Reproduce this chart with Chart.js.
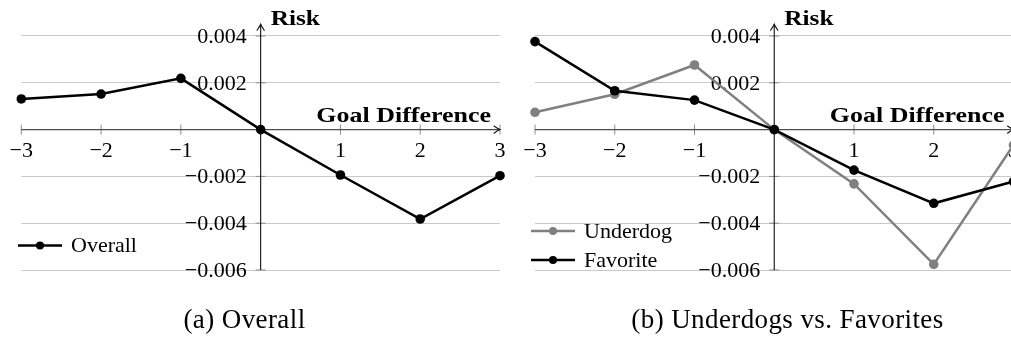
<!DOCTYPE html>
<html>
<head>
<meta charset="utf-8">
<script src="https://cdn.jsdelivr.net/npm/chart.js@4.4.1/dist/chart.umd.min.js"></script>
<style>
  html, body { margin: 0; padding: 0; background: #fff; width: 1011px; height: 338px; overflow: hidden; position: relative; }
  canvas { position: absolute; top: 0; }
  #chartOverall { left: 0; }
  #chartSplit { left: 505px; }
  .caption { position: absolute; top: 304px; font-family: 'Liberation Serif', 'DejaVu Serif', serif; font-size: 27px; line-height: 30px; white-space: nowrap; transform: translateX(-50%); color: #000; letter-spacing: 0.4px; }
</style>
</head>
<body>
<canvas id="chartOverall" width="515" height="338"></canvas>
<canvas id="chartSplit" width="530" height="338"></canvas>
<div class="caption" style="left:244.5px">(a) Overall</div>
<div class="caption" style="left:787.5px">(b) Underdogs vs. Favorites</div>
<script>
// Goal difference categories and risk estimates per group
const goalDiff = [-3, -2, -1, 0, 1, 2, 3];
const overallRisk = [0.00131, 0.00152, 0.00219, 0, -0.00194, -0.00382, -0.00197];
const underdogRisk = [0.00074, 0.00151, 0.00276, 0, -0.00232, -0.00576, -0.00066];
const favoriteRisk = [0.00376, 0.00166, 0.00126, 0, -0.00173, -0.00315, -0.00222];
const seriesNames = ['Overall', 'Underdog', 'Favorite'];

// Tick values and their printed labels (origin left unlabeled)
const xTickLabels = ['−3', '−2', '−1', '', '1', '2', '3'];
const yTickValues = [-0.006, -0.004, -0.002, 0, 0.002, 0.004];
const yTickLabels = ['−0.006', '−0.004', '−0.002', '', '0.002', '0.004'];

const SERIF = "'Liberation Serif', 'DejaVu Serif', serif";
const BLACK = '#000000';
const GRAY = '#808080';

const toPoints = vals => goalDiff.map((g, i) => ({ x: g, y: vals[i] }));

function lineSet(label, color, vals, order) {
  return {
    label,
    data: toPoints(vals),
    order,
    borderColor: color,
    backgroundColor: color,
    pointBackgroundColor: color,
    pointBorderColor: color,
    pointBorderWidth: 0,
    borderWidth: 2.5,
    pointRadius: 4.8,
    pointHoverRadius: 4.8,
    tension: 0,
    clip: false
  };
}

function drawArrow(ctx, x, y, dir) {
  ctx.save();
  ctx.translate(x, y);
  if (dir === 'up') ctx.rotate(-Math.PI / 2);
  ctx.lineWidth = 1.1;
  ctx.lineCap = 'round';
  ctx.beginPath();
  ctx.moveTo(-6, -3.6);
  ctx.quadraticCurveTo(-2, -0.8, 0, 0);
  ctx.quadraticCurveTo(-2, 0.8, -6, 3.6);
  ctx.stroke();
  ctx.restore();
}

function stretchedText(ctx, text, x, y, sx) {
  ctx.save();
  ctx.translate(x, y);
  ctx.scale(sx, 1);
  ctx.fillText(text, 0, 0);
  ctx.restore();
}

// Axes crossing at the origin: lines with arrowheads, tick marks, tick labels, axis titles
const originAxes = {
  id: 'originAxes',
  beforeDatasetsDraw(chart) {
    const { ctx, chartArea: a, scales: { x, y } } = chart;
    const x0 = x.getPixelForValue(0);
    const y0 = y.getPixelForValue(0);
    const yBottom = y.getPixelForValue(yTickValues[0]);
    ctx.save();

    ctx.strokeStyle = '#8c8c8c';
    ctx.lineWidth = 1;
    ctx.beginPath();
    goalDiff.forEach(g => {
      if (g === 0) return;
      const px = x.getPixelForValue(g);
      ctx.moveTo(px, y0 - 5);
      ctx.lineTo(px, y0 + 5);
    });
    yTickValues.forEach(v => {
      if (v === 0) return;
      const py = y.getPixelForValue(v);
      ctx.moveTo(x0 - 5, py);
      ctx.lineTo(x0 + 5, py);
    });
    ctx.stroke();

    ctx.strokeStyle = '#4d4d4d';
    ctx.lineWidth = 1.4;
    ctx.beginPath();
    ctx.moveTo(a.left, y0);
    ctx.lineTo(a.right, y0);
    ctx.stroke();
    ctx.strokeStyle = '#111';
    drawArrow(ctx, a.right, y0, 'right');

    ctx.strokeStyle = '#111';
    ctx.lineWidth = 1.1;
    ctx.beginPath();
    ctx.moveTo(x0, yBottom);
    ctx.lineTo(x0, a.top);
    ctx.stroke();
    drawArrow(ctx, x0, a.top, 'up');

    ctx.fillStyle = '#000';
    ctx.font = '22px ' + SERIF;
    ctx.textAlign = 'center';
    ctx.textBaseline = 'alphabetic';
    goalDiff.forEach((g, i) => ctx.fillText(xTickLabels[i], x.getPixelForValue(g), y0 + 27));

    ctx.textAlign = 'right';
    ctx.textBaseline = 'middle';
    yTickValues.forEach((v, i) => ctx.fillText(yTickLabels[i], x0 - 14, y.getPixelForValue(v) + 1));

    ctx.font = 'bold 22px ' + SERIF;
    ctx.textBaseline = 'alphabetic';
    ctx.textAlign = 'left';
    stretchedText(ctx, 'Risk', x0 + 10, a.top + 1, 1.15);
    ctx.textAlign = 'right';
    stretchedText(ctx, 'Goal Difference', a.right - 9, y0 - 8, 1.18);

    ctx.restore();
  }
};

// Legend entries drawn as a short line with a marker, placed inside the plot
const lineLegend = {
  id: 'lineLegend',
  afterDraw(chart, args, opts) {
    const { ctx } = chart;
    ctx.save();
    ctx.font = '22px ' + SERIF;
    ctx.textAlign = 'left';
    ctx.textBaseline = 'middle';
    chart.data.datasets.forEach((ds, i) => {
      const yy = opts.y + i * opts.rowGap;
      ctx.strokeStyle = ds.borderColor;
      ctx.lineWidth = 2.5;
      ctx.beginPath();
      ctx.moveTo(opts.x, yy);
      ctx.lineTo(opts.x + 44, yy);
      ctx.stroke();
      ctx.fillStyle = ds.borderColor;
      ctx.beginPath();
      ctx.arc(opts.x + 22, yy, 4, 0, Math.PI * 2);
      ctx.fill();
      ctx.fillStyle = '#000';
      ctx.fillText(ds.label, opts.x + 53, yy + 1);
    });
    ctx.restore();
  }
};

function scaleOptions() {
  return {
    x: {
      type: 'linear',
      position: { y: 0 },
      min: -3,
      max: 3,
      afterBuildTicks: s => { s.ticks = goalDiff.map(v => ({ value: v })); },
      ticks: { display: false },
      grid: { display: false, drawTicks: false },
      border: { display: false }
    },
    y: {
      type: 'linear',
      position: { x: 0 },
      min: -0.006,
      max: 0.0045,
      afterBuildTicks: s => { s.ticks = yTickValues.map(v => ({ value: v })); },
      ticks: { display: false },
      grid: { color: '#c9c9c9', lineWidth: 1, drawTicks: false },
      border: { display: false }
    }
  };
}

function makeChart(id, datasets, padding, legendPos) {
  return new Chart(document.getElementById(id), {
    type: 'line',
    data: { datasets },
    options: {
      responsive: false,
      animation: false,
      events: [],
      layout: { padding },
      scales: scaleOptions(),
      plugins: {
        legend: { display: false },
        tooltip: { enabled: false },
        lineLegend: legendPos
      }
    },
    plugins: [originAxes, lineLegend]
  });
}

makeChart('chartOverall',
  [lineSet(seriesNames[0], BLACK, overallRisk, 0)],
  { left: 21.3, right: 15, top: 24.3, bottom: 68 },
  { x: 18, y: 245.5, rowGap: 29 });

makeChart('chartSplit',
  [lineSet(seriesNames[1], GRAY, underdogRisk, 1), lineSet(seriesNames[2], BLACK, favoriteRisk, 0)],
  { left: 30, right: 21.5, top: 24.3, bottom: 68 },
  { x: 26, y: 231, rowGap: 29 });
</script>
</body>
</html>
